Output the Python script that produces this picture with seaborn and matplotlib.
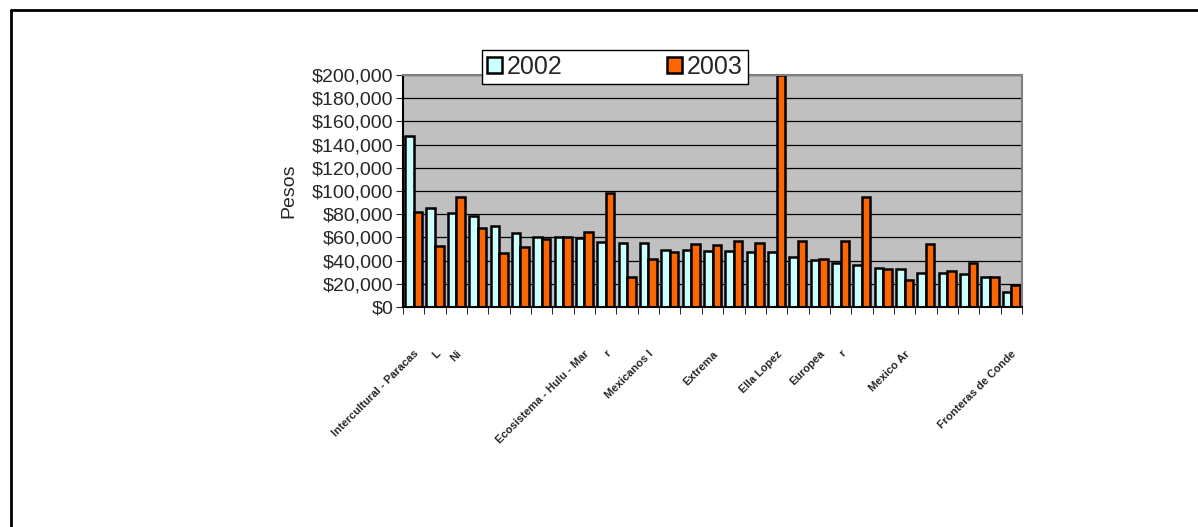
import matplotlib
matplotlib.use("Agg")
import matplotlib.pyplot as plt
import matplotlib.ticker as mticker
from matplotlib.lines import Line2D
import pandas as pd
import seaborn as sns

# valores (pesos)
pesos_2002 = [147000, 85500, 81000, 78500, 70000, 63500, 60500, 60500, 59500, 56000,
              55500, 55000, 49500, 49500, 48000, 48500, 47600, 47600, 43200, 40900,
              38000, 36000, 33700, 33100, 29700, 29700, 28800, 25900, 13000]
pesos_2003 = [82000, 53000, 94500, 68500, 46500, 52000, 58500, 60500, 65000, 98500,
              25500, 41000, 47000, 54000, 53500, 56800, 55300, 200000, 56800, 41200,
              56800, 94500, 33100, 23600, 53900, 31100, 38300, 25900, 19300]
etiquetas = ["Intercultural - Paracas", "L", "Ni", "", "", "", "", "",
             "Ecosistema - Hulu - Mar", "r", "", "Mexicanos I", "", "", "Extrema", "", "",
             "Ella Lopez", "", "Europea", "r", "", "", "Mexico Ar", "", "", "", "",
             "Fronteras de Conde"]
years = ["2002", "2003"]
colores = {"2002": "#CCFFFF", "2003": "#FF6600"}

n = len(pesos_2002)
df = pd.DataFrame({
    "id": list(range(n)) * 2,
    "pesos": pesos_2002 + pesos_2003,
    "año": [years[0]] * n + [years[1]] * n,
})

sns.set_style("white")
plt.rcParams["font.family"] = ["Liberation Sans", "DejaVu Sans"]

W, H = 1198, 527
fig = plt.figure(figsize=(W / 100, H / 100), dpi=100)
ax = fig.add_axes([403 / W, 1 - 307 / H, 619 / W, 232 / H])
ax.set_facecolor("#C0C0C0")

sns.barplot(data=df, x="id", y="pesos", hue="año", palette=colores, width=0.8,
            saturation=1, errorbar=None, edgecolor="black", linewidth=1.8, ax=ax)

ax.set_ylim(0, 200000)
ax.set_xlim(-0.5, n - 0.5)
ax.set_yticks(range(0, 200001, 20000))
ax.yaxis.set_major_formatter(mticker.FuncFormatter(lambda v, p: f"${v:,.0f}"))
ax.yaxis.grid(True, color="black", lw=0.9)
ax.set_axisbelow(True)
ax.tick_params(axis="y", labelsize=14, length=5, direction="out", left=True, pad=2)

ax.set_xticks(range(n))
ax.set_xticklabels(etiquetas, rotation=45, ha="right", rotation_mode="anchor",
                   fontsize=8, fontweight="bold")
ax.set_xticks([i - 0.5 for i in range(n + 1)], minor=True)
ax.tick_params(axis="x", which="major", length=0, pad=30)
ax.tick_params(axis="x", which="minor", length=5, direction="out", bottom=True, color="black")

ax.set_xlabel("")
ax.set_ylabel("Pesos", fontsize=14, labelpad=10)

for s in ax.spines.values():
    s.set_color("#808080")
    s.set_linewidth(1.5)
ax.spines["left"].set_color("black")
ax.spines["bottom"].set_color("black")

handles, labels = ax.get_legend_handles_labels()
leg = ax.legend(handles, labels, loc="lower left", bbox_to_anchor=(0.128, 0.961, 0.429, 0.168),
                mode="expand", ncol=2, frameon=True, fancybox=False, framealpha=1,
                edgecolor="black", fontsize=18, handlelength=0.6, handleheight=0.6,
                handletextpad=0.2, borderaxespad=0, borderpad=0.2)
leg.get_frame().set_linewidth(1)

# marco exterior (solo se ven los bordes superior e izquierdo)
fig.add_artist(Line2D([11 / W, 11 / W], [0, 1 - 10 / H], transform=fig.transFigure, color="black", lw=2))
fig.add_artist(Line2D([11 / W, 1], [1 - 10 / H, 1 - 10 / H], transform=fig.transFigure, color="black", lw=2))

fig.savefig("out.png", dpi=100)
